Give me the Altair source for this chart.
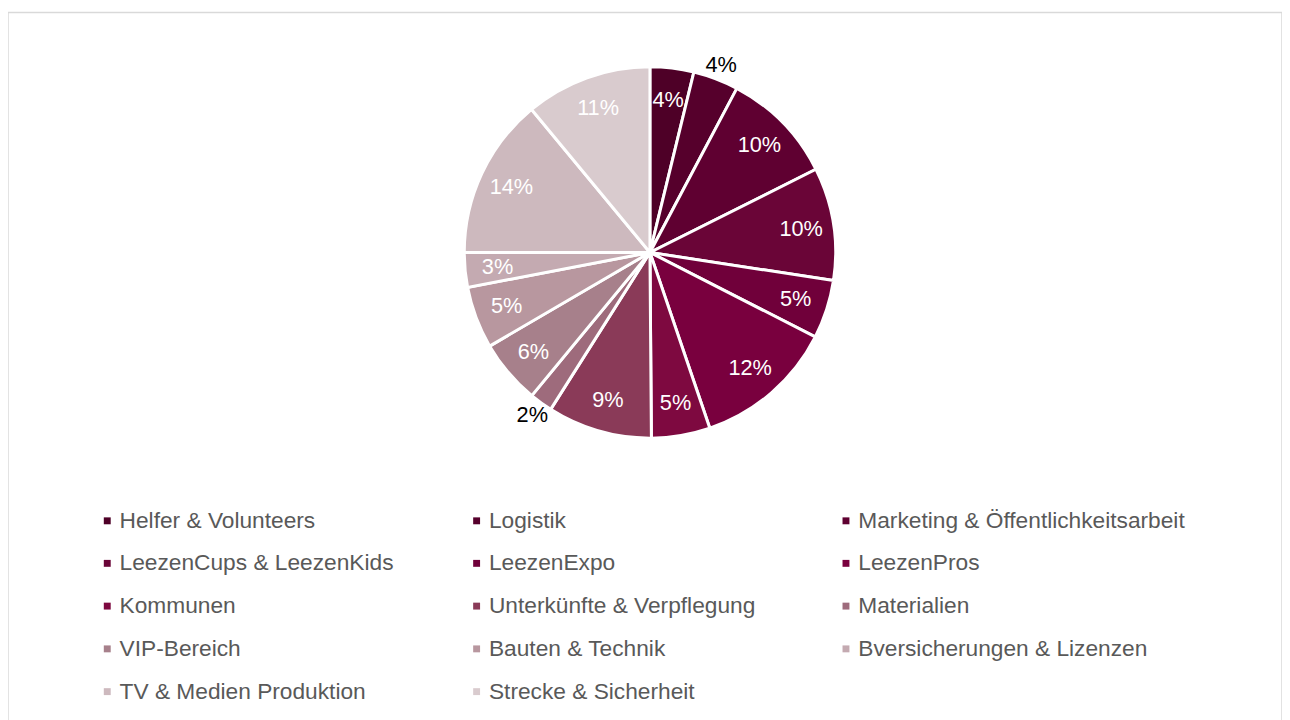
import altair as alt
import pandas as pd

categories = [
    "Helfer & Volunteers", "Logistik", "Marketing & Öffentlichkeitsarbeit",
    "LeezenCups & LeezenKids", "LeezenExpo", "LeezenPros",
    "Kommunen", "Unterkünfte & Verpflegung", "Materialien",
    "VIP-Bereich", "Bauten & Technik", "Bversicherungen & Lizenzen",
    "TV & Medien Produktion", "Strecke & Sicherheit",
]
values = [3.8, 3.95, 9.85, 9.8, 5.1, 12.25, 5.1, 9.1, 2.0, 5.6, 5.4, 3.0, 14.0, 11.0]
colors = [
    "#4e0027", "#56002c", "#5f0031", "#6a0537", "#70003a", "#79003e",
    "#7e0940", "#8a3a58", "#9e6b7c", "#a7808b", "#b8979f", "#c4aab1",
    "#cdb9be", "#d9cbce",
]
outside_labels = ["Logistik", "Materialien"]

df = pd.DataFrame({
    "category": categories,
    "value": values,
    "idx": list(range(len(categories))),
    "outside": [c in outside_labels for c in categories],
})

# Vega fills legend columns top-to-bottom; reorder so entries read row by row
N_COLS = 3
n_rows = -(-len(categories) // N_COLS)
legend_order = [r * N_COLS + c for c in range(N_COLS) for r in range(n_rows)
                if r * N_COLS + c < len(categories)]
legend_domain = [categories[i] for i in legend_order]
legend_range = [colors[i] for i in legend_order]

FONT = "Liberation Sans"
CX, CY, R = 650, 243, 188
R_IN, R_OUT = 155, 203

pie = alt.Chart(df).mark_arc(outerRadius=R, stroke="white", strokeWidth=3).encode(
    theta=alt.Theta("value:Q", stack=True),
    order=alt.Order("idx:Q"),
    x=alt.value(CX),
    y=alt.value(CY),
    color=alt.Color(
        "category:N",
        scale=alt.Scale(domain=legend_domain, range=legend_range),
        legend=alt.Legend(
            title=None,
            orient="none",
            legendX=89,
            legendY=503,
            columns=N_COLS,
            gridAlign="all",
            columnPadding=19,
            rowPadding=19.3,
            symbolType="square",
            symbolSize=49,
            symbolStrokeWidth=0,
            labelOffset=1,
            labelFont=FONT,
            labelFontSize=23,
            labelColor="#595959",
            labelLimit=600,
        ),
    ),
)

labels = alt.Chart(df).mark_text(
    font=FONT, fontSize=22, align="center", baseline="middle"
).transform_joinaggregate(
    total="sum(value)"
).transform_window(
    cum="sum(value)", sort=[alt.SortField("idx")], frame=[None, 0]
).transform_calculate(
    label="format(datum.value / 100, '.0%')",
    mid="2 * PI * (datum.cum - datum.value / 2) / datum.total",
    r=f"datum.outside ? {R_OUT} : {R_IN}",
).encode(
    theta=alt.Theta("mid:Q", scale=None, stack=False),
    radius=alt.Radius("r:Q", scale=None),
    x=alt.value(CX),
    y=alt.value(CY),
    text="label:N",
    color=alt.condition("datum.outside", alt.value("#000000"), alt.value("#ffffff")),
)

chart = alt.layer(pie, labels).properties(
    width=1290, height=720, padding=0, autosize=alt.AutoSizeParams(type="none")
).configure_view(stroke="#d9d9d9", strokeWidth=1.5)

chart.save("out.html", embed_options={"renderer": "svg", "actions": False})
